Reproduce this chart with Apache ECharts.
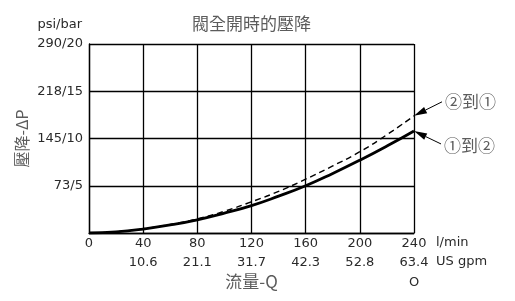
<!DOCTYPE html>
<html>
<head>
<meta charset="utf-8">
<script src="https://cdn.jsdelivr.net/npm/echarts@6/dist/echarts.min.js"></script>
<style>html,body{margin:0;padding:0;background:#fff;}#c{width:515px;height:301px;}</style>
</head>
<body>
<div id="c"></div>
<script>
// Flow (l/min) sample points
const flowLpm = [0, 20, 40, 60, 80, 100, 120, 140, 160, 180, 200, 220, 240];
// Pressure drop (bar), ① to ② (solid)
const drop1to2 = [0, 0.12, 0.42, 0.85, 1.4, 2.1, 2.9, 3.9, 5.0, 6.3, 7.7, 9.2, 10.8];
// Pressure drop (bar), ② to ① (dashed)
const drop2to1 = [0, 0.13, 0.45, 0.9, 1.5, 2.3, 3.3, 4.4, 5.7, 7.1, 8.6, 10.4, 12.4];
// X tick labels
const xTicksLpm = [0, 40, 80, 120, 160, 200, 240];
const xTicksGpm = ['', '10.6', '21.1', '31.7', '42.3', '52.8', '63.4'];
// Y tick labels (bar values and psi/bar text)
const yTicksBar = [0, 5, 10, 15, 20];
const yTickLabels = ['', '73/5', '145/10', '218/15', '290/20'];

const numFont = 'DejaVu Sans';
const cjkFont = 'Noto Sans CJK TC';
const textColor = '#2a2a2a';
const grayColor = '#5c5c5c';

const chart = echarts.init(document.getElementById('c'), null, {renderer: 'canvas'});

chart.setOption({
  animation: false,
  backgroundColor: '#fff',
  grid: {left: 89, top: 44, width: 325, height: 189, show: false},
  xAxis: {
    type: 'value', min: 0, max: 240, interval: 40,
    axisLine: {show: true, lineStyle: {color: '#000', width: 1.3}},
    axisTick: {show: false},
    splitLine: {show: true, lineStyle: {color: '#000', width: 1.3}},
    axisLabel: {
      fontFamily: numFont, fontSize: 13, color: textColor, lineHeight: 19, margin: 1,
      formatter: v => { const i = xTicksLpm.indexOf(v); return i < 0 ? '' : (xTicksLpm[i] + '\n' + xTicksGpm[i]); }
    }
  },
  yAxis: {
    type: 'value', min: 0, max: 20, interval: 5,
    axisLine: {show: true, lineStyle: {color: '#000', width: 1.3}},
    axisTick: {show: false},
    splitLine: {show: true, lineStyle: {color: '#000', width: 1.3}},
    axisLabel: {
      fontFamily: numFont, fontSize: 13, color: textColor, margin: 6,
      formatter: v => { const i = yTicksBar.indexOf(v); return i < 0 ? '' : yTickLabels[i]; }
    }
  },
  series: [
    {
      type: 'line', name: '①到②', data: flowLpm.map((x, i) => [x, drop1to2[i]]),
      smooth: true, symbol: 'none', lineStyle: {color: '#000', width: 2.8}, z: 5
    },
    {
      type: 'line', name: '②到①', data: flowLpm.map((x, i) => [x, drop2to1[i]]),
      smooth: true, symbol: 'none', lineStyle: {color: '#000', width: 1.4, type: [6, 4]}, z: 4
    }
  ]
});

// Top-right corner of the plot and the curve ends, from the chart's own scales
const topRight = chart.convertToPixel({gridIndex: 0}, [240, 20]);
const topLeft = chart.convertToPixel({gridIndex: 0}, [0, 20]);
const botRight = chart.convertToPixel({gridIndex: 0}, [240, 0]);
const botLeft = chart.convertToPixel({gridIndex: 0}, [0, 0]);
const endSolid = chart.convertToPixel({gridIndex: 0}, [flowLpm[flowLpm.length - 1], drop1to2[drop1to2.length - 1]]);
const endDash = chart.convertToPixel({gridIndex: 0}, [flowLpm[flowLpm.length - 1], drop2to1[drop2to1.length - 1]]);
const midX = (botLeft[0] + botRight[0]) / 2;
const midY = (topLeft[1] + botLeft[1]) / 2;

function arrow(tip, tail) {
  const dx = tail[0] - tip[0], dy = tail[1] - tip[1];
  const len = Math.sqrt(dx * dx + dy * dy);
  const ux = dx / len, uy = dy / len;
  const hl = 13, hw = 3.5;
  const bx = tip[0] + ux * hl, by = tip[1] + uy * hl;
  return [
    {type: 'line', shape: {x1: bx, y1: by, x2: tail[0], y2: tail[1]}, style: {stroke: '#000', lineWidth: 1}},
    {type: 'polygon', shape: {points: [[tip[0], tip[1]], [bx - uy * hw, by + ux * hw], [bx + uy * hw, by - ux * hw]]}, style: {fill: '#000'}}
  ];
}

const tailDash = [endDash[0] + 28, endDash[1] - 14];
const tailSolid = [endSolid[0] + 27, endSolid[1] + 13];

chart.setOption({
  graphic: [
    {type: 'text', x: midX, y: 24, style: {text: '閥全開時的壓降', font: '17px "' + cjkFont + '"', fill: grayColor, align: 'center', verticalAlign: 'middle'}},
    {type: 'text', x: botLeft[0] - 7, y: 25, style: {text: 'psi/bar', font: '13px "' + numFont + '"', fill: textColor, align: 'right', verticalAlign: 'middle'}},
    {type: 'text', x: 22, y: midY, rotation: Math.PI / 2, style: {text: '壓降-ΔP', font: '16px "' + cjkFont + '"', fill: grayColor, align: 'center', verticalAlign: 'middle'}},
    {type: 'text', x: midX, y: 282, style: {text: '流量-Q', font: '17px "' + cjkFont + '"', fill: grayColor, align: 'center', verticalAlign: 'middle'}},
    {type: 'text', x: botRight[0], y: 283, style: {text: 'O', font: '13px "' + numFont + '"', fill: textColor, align: 'center', verticalAlign: 'middle'}},
    {type: 'text', x: botRight[0] + 22, y: 243, style: {text: 'l/min', font: '13px "' + numFont + '"', fill: textColor, align: 'left', verticalAlign: 'middle'}},
    {type: 'text', x: botRight[0] + 22, y: 262, style: {text: 'US gpm', font: '13px "' + numFont + '"', fill: textColor, align: 'left', verticalAlign: 'middle'}},
    {type: 'text', x: tailDash[0] + 3, y: tailDash[1], style: {text: '②到①', font: '17px "' + cjkFont + '"', fill: grayColor, align: 'left', verticalAlign: 'middle'}},
    {type: 'text', x: tailSolid[0] + 3, y: tailSolid[1] + 2, style: {text: '①到②', font: '17px "' + cjkFont + '"', fill: grayColor, align: 'left', verticalAlign: 'middle'}},
    ...arrow(endDash, tailDash),
    ...arrow(endSolid, tailSolid)
  ]
});
</script>
</body>
</html>
